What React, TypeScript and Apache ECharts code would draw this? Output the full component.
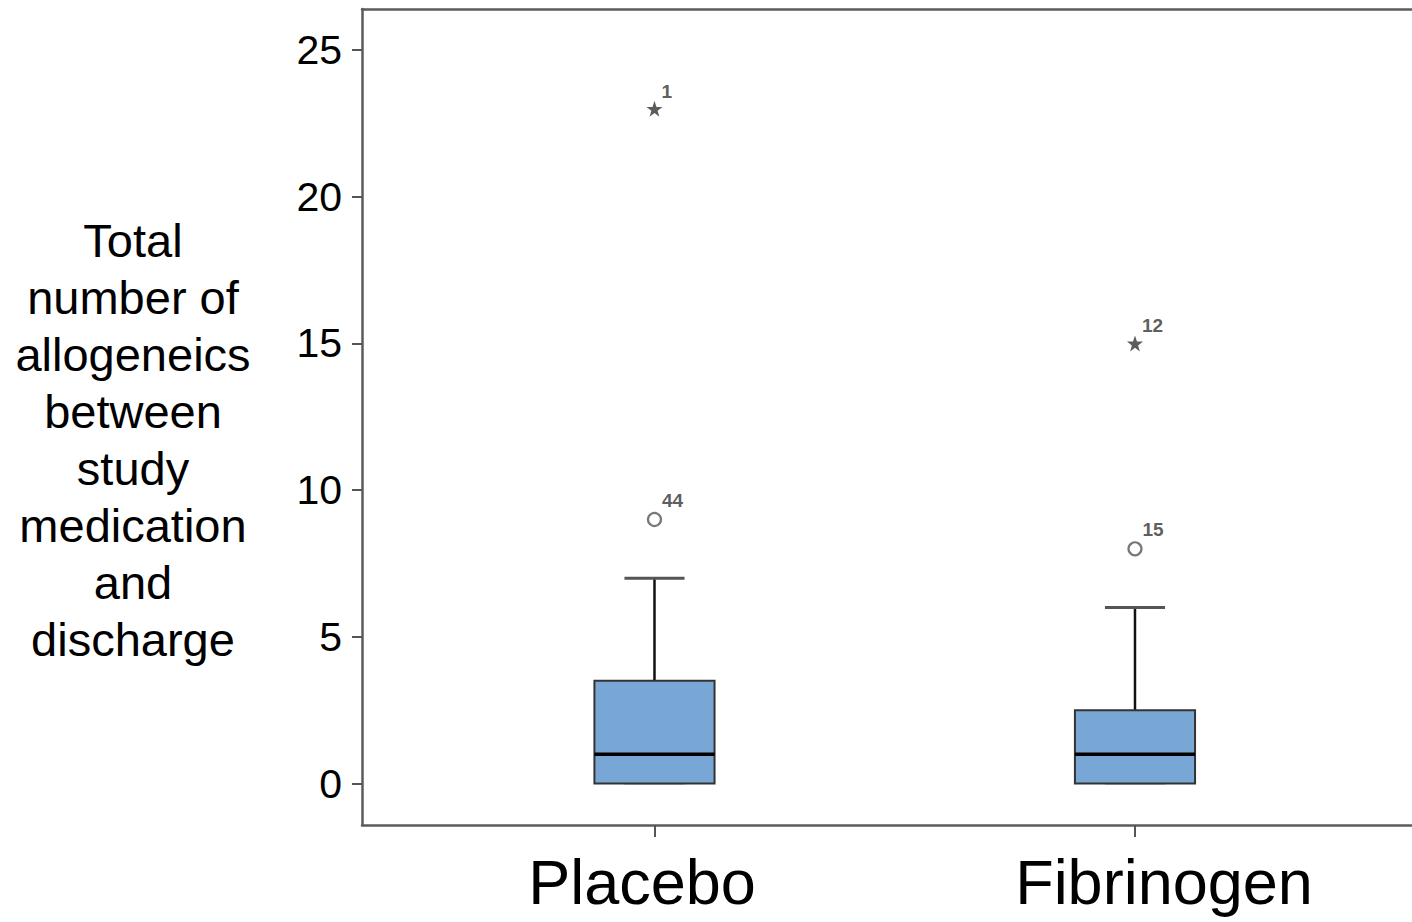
import React, { useEffect, useRef } from "react";
import * as echarts from "echarts";

const categories = ["Placebo", "Fibrinogen"];
const boxLow = [0, 0];
const boxQ1 = [0, 0];
const boxMedian = [1, 1];
const boxQ3 = [3.5, 2.5];
const boxHigh = [7, 6];

const extremeCat = [0, 1];
const extremeValues = [23, 15];
const extremeIds = ["1", "12"];

const outlierCat = [0, 1];
const outlierValues = [9, 8];
const outlierIds = ["44", "15"];

const yTicks = [0, 5, 10, 15, 20, 25];
const yAxisTitle = "Total\nnumber of\nallogeneics\nbetween\nstudy\nmedication\nand\ndischarge";

const FONT = "'Liberation Sans', Arial, Helvetica, sans-serif";
const STAR =
  "path://M50,0 L61.8,35.1 L98.1,35.1 L68.8,56.7 L79.4,91.2 L50,70 L20.6,91.2 L31.2,56.7 L1.9,35.1 L38.2,35.1 Z";

const X_MIN = 0.3913;
const X_MAX = 2.5765;
const FRAME = { color: "#5b5b5b", width: 2.5 };

export default function App() {
  const ref = useRef<HTMLDivElement>(null);

  useEffect(() => {
    if (!ref.current) return;
    const chart = echarts.init(ref.current, null, { renderer: "svg" });

    const boxData = categories.map((_, i) => [
      i + 1,
      boxLow[i],
      boxQ1[i],
      boxMedian[i],
      boxQ3[i],
      boxHigh[i],
    ]);

    const outlierLabel = {
      show: true,
      formatter: "{b}",
      position: [15, -21],
      fontSize: 19,
      fontWeight: "bold" as const,
      color: "#333",
      fontFamily: FONT,
    };

    chart.setOption({
      animation: false,
      backgroundColor: "#fff",
      title: {
        text: yAxisTitle,
        left: 133,
        top: 212,
        padding: 0,
        textAlign: "center",
        textStyle: {
          fontFamily: FONT,
          fontSize: 47,
          lineHeight: 57,
          fontWeight: "normal",
          color: "#000",
        },
      },
      grid: {
        left: 362,
        top: 9,
        right: 0,
        bottom: 97,
        show: false,
        containLabel: false,
      },
      xAxis: [
        {
          type: "value",
          position: "bottom",
          min: X_MIN,
          max: X_MAX,
          splitLine: { show: false },
          axisLine: { show: true, onZero: false, lineStyle: FRAME },
          axisTick: {
            show: true,
            inside: false,
            customValues: [1, 2],
            length: 12,
            lineStyle: { color: "#555", width: 2 },
          },
          axisLabel: {
            show: true,
            customValues: [1, 2],
            margin: 25,
            formatter: (v: number) => {
              const idx = Math.round(v) - 1;
              return idx === 0 ? `{p|${categories[0]}}` : `{f|${categories[1]}}`;
            },
            rich: {
              p: {
                fontSize: 63,
                lineHeight: 63,
                fontFamily: FONT,
                color: "#000",
                padding: [0, 25, 0, 0],
              },
              f: {
                fontSize: 63,
                lineHeight: 63,
                fontFamily: FONT,
                color: "#000",
                padding: [0, 0, 0, 58],
              },
            },
          },
        },
        {
          type: "value",
          position: "top",
          min: X_MIN,
          max: X_MAX,
          splitLine: { show: false },
          axisLine: { show: true, onZero: false, lineStyle: FRAME },
          axisTick: { show: false },
          axisLabel: { show: false },
        },
      ],
      yAxis: {
        type: "value",
        min: -1.414,
        max: 26.4,
        splitLine: { show: false },
        axisLine: { show: true, onZero: false, lineStyle: FRAME },
        axisTick: {
          show: true,
          inside: false,
          customValues: yTicks,
          length: 10,
          lineStyle: { color: "#555", width: 2 },
        },
        axisLabel: {
          show: true,
          customValues: yTicks,
          margin: 20,
          fontSize: 41,
          fontFamily: FONT,
          color: "#000",
        },
      },
      series: [
        {
          type: "custom",
          data: boxData,
          encode: { x: 0, y: [1, 2, 3, 4, 5] },
          renderItem: (params: any, api: any) => {
            const x = api.value(0);
            const pLow = api.coord([x, api.value(1)]);
            const pQ1 = api.coord([x, api.value(2)]);
            const pMed = api.coord([x, api.value(3)]);
            const pQ3 = api.coord([x, api.value(4)]);
            const pHigh = api.coord([x, api.value(5)]);
            const halfBox = api.size([0.125, 0])[0];
            const halfCap = api.size([0.0625, 0])[0];
            const cx = pMed[0];
            return {
              type: "group",
              children: [
                {
                  type: "line",
                  shape: { x1: cx - halfCap, y1: pLow[1], x2: cx + halfCap, y2: pLow[1] },
                  style: { stroke: "#9a9a9a", lineWidth: 2 },
                },
                {
                  type: "line",
                  shape: { x1: cx, y1: pQ3[1], x2: cx, y2: pHigh[1] },
                  style: { stroke: "#111", lineWidth: 2.5 },
                },
                {
                  type: "line",
                  shape: { x1: cx - halfCap, y1: pHigh[1], x2: cx + halfCap, y2: pHigh[1] },
                  style: { stroke: "#555", lineWidth: 3 },
                },
                {
                  type: "rect",
                  shape: {
                    x: cx - halfBox,
                    y: pQ3[1],
                    width: halfBox * 2,
                    height: pQ1[1] - pQ3[1],
                  },
                  style: { fill: "#79a7d5", stroke: "#333", lineWidth: 2 },
                },
                {
                  type: "line",
                  shape: { x1: cx - halfBox, y1: pMed[1], x2: cx + halfBox, y2: pMed[1] },
                  style: { stroke: "#000", lineWidth: 3.5 },
                },
              ],
            };
          },
          z: 2,
        },
        {
          type: "scatter",
          symbol: "circle",
          symbolSize: 13,
          itemStyle: { color: "#fff", borderColor: "#555", borderWidth: 2.2 },
          data: outlierValues.map((v, i) => ({
            value: [outlierCat[i] + 1, v],
            name: outlierIds[i],
          })),
          label: outlierLabel,
          z: 3,
        },
        {
          type: "scatter",
          symbol: STAR,
          symbolSize: 16,
          itemStyle: { color: "#333" },
          data: extremeValues.map((v, i) => ({
            value: [extremeCat[i] + 1, v],
            name: extremeIds[i],
          })),
          label: { ...outlierLabel, position: [15, -19] },
          z: 3,
        },
      ],
    });

    return () => chart.dispose();
  }, []);

  return (
    <div
      ref={ref}
      style={{ position: "absolute", left: 0, top: 0, width: 1412, height: 922 }}
    />
  );
}
